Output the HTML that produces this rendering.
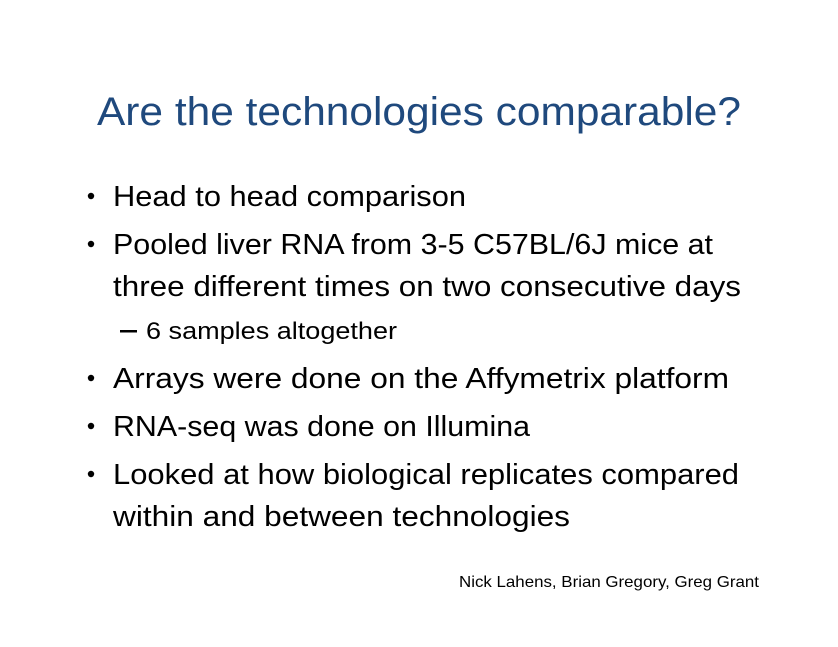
<!DOCTYPE html>
<html>
<head>
<meta charset="utf-8">
<style>
  html,body{margin:0;padding:0;background:#fff;}
  svg{display:block;}
  text{font-family:"Liberation Sans",sans-serif;}
</style>
</head>
<body>
<svg width="838" height="647" viewBox="0 0 838 647">
  <rect width="838" height="647" fill="#ffffff"/>
  <text x="97" y="125" font-size="40" fill="#1F497D" textLength="644" lengthAdjust="spacingAndGlyphs">Are the technologies comparable?</text>

  <g fill="#000" font-size="29">
    <circle cx="91" cy="196" r="3.2"/>
    <text x="113" y="206" textLength="353" lengthAdjust="spacingAndGlyphs">Head to head comparison</text>

    <circle cx="91" cy="244" r="3.2"/>
    <text x="113" y="254" textLength="600" lengthAdjust="spacingAndGlyphs">Pooled liver RNA from 3-5 C57BL/6J mice at</text>
    <text x="113" y="296" textLength="628" lengthAdjust="spacingAndGlyphs">three different times on two consecutive days</text>

    <rect x="120" y="330" width="17" height="2.5"/>
    <text x="146" y="339" font-size="24" textLength="251" lengthAdjust="spacingAndGlyphs">6 samples altogether</text>

    <circle cx="91" cy="378" r="3.2"/>
    <text x="113" y="388" textLength="616" lengthAdjust="spacingAndGlyphs">Arrays were done on the Affymetrix platform</text>

    <circle cx="91" cy="426" r="3.2"/>
    <text x="113" y="436" textLength="417" lengthAdjust="spacingAndGlyphs">RNA-seq was done on Illumina</text>

    <circle cx="91" cy="474" r="3.2"/>
    <text x="113" y="484" textLength="626" lengthAdjust="spacingAndGlyphs">Looked at how biological replicates compared</text>
    <text x="113" y="526" textLength="457" lengthAdjust="spacingAndGlyphs">within and between technologies</text>
  </g>

  <text x="459" y="587" font-size="16" fill="#000" textLength="300" lengthAdjust="spacingAndGlyphs">Nick Lahens, Brian Gregory, Greg Grant</text>
</svg>
</body>
</html>
